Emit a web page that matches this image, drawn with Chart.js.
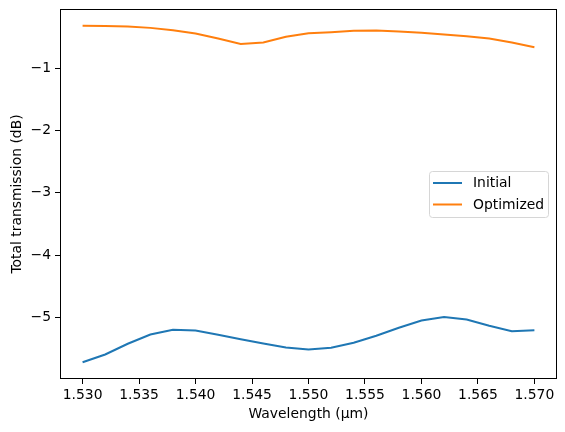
<!DOCTYPE html>
<html><head><meta charset="utf-8">
<script src="https://cdn.jsdelivr.net/npm/chart.js@4"></script>
<style>html,body{margin:0;padding:0;background:#fff}</style>
</head><body>
<canvas id="c" width="565" height="432"></canvas>
<script>
const wavelengths = [1.530,1.532,1.534,1.536,1.538,1.540,1.542,1.544,1.546,1.548,1.550,1.552,1.554,1.556,1.558,1.560,1.562,1.564,1.566,1.568,1.570];
const initial = [-5.718,-5.594,-5.422,-5.273,-5.198,-5.209,-5.278,-5.349,-5.418,-5.482,-5.514,-5.487,-5.406,-5.294,-5.165,-5.048,-4.995,-5.032,-5.133,-5.220,-5.204];
const optimized = [-0.320,-0.321,-0.330,-0.353,-0.390,-0.443,-0.523,-0.610,-0.587,-0.497,-0.438,-0.422,-0.398,-0.394,-0.410,-0.433,-0.459,-0.486,-0.523,-0.587,-0.663];
const seriesNames = ['Initial','Optimized'];
const xTicks = [1.530,1.535,1.540,1.545,1.550,1.555,1.560,1.565,1.570];
const yTicks = [-1,-2,-3,-4,-5];

const FONT = 'DejaVu Sans';
const FS = 13.9;
const colors = ['#1f77b4','#ff7f0e'];

const allY = initial.concat(optimized);
const yMinD = Math.min(...allY), yMaxD = Math.max(...allY);
const yR = yMaxD - yMinD;
const xMinD = Math.min(...wavelengths), xMaxD = Math.max(...wavelengths);
const xR = xMaxD - xMinD;

const framePlugin = {
  id: 'frame',
  afterDraw(chart) {
    const {ctx, chartArea: a} = chart;
    ctx.save();
    ctx.strokeStyle = '#000';
    ctx.lineWidth = 1;
    ctx.strokeRect(Math.round(a.left) + 0.5, Math.round(a.top) + 0.5, Math.round(a.right - a.left) - 1, Math.round(a.bottom - a.top) - 1);
    // legend
    const bx = 429.5, by = 171.5, bw = 119, bh = 46, r = 3;
    ctx.beginPath();
    ctx.moveTo(bx + r, by);
    ctx.arcTo(bx + bw, by, bx + bw, by + bh, r);
    ctx.arcTo(bx + bw, by + bh, bx, by + bh, r);
    ctx.arcTo(bx, by + bh, bx, by, r);
    ctx.arcTo(bx, by, bx + bw, by, r);
    ctx.closePath();
    ctx.fillStyle = 'rgba(255,255,255,0.8)';
    ctx.fill();
    ctx.strokeStyle = '#d6d6d6';
    ctx.stroke();
    chart.data.datasets.forEach((ds, i) => {
      const ly = 183 + i * 21.5;
      ctx.beginPath();
      ctx.strokeStyle = ds.borderColor;
      ctx.lineWidth = 2;
      ctx.moveTo(433, ly);
      ctx.lineTo(462, ly);
      ctx.stroke();
      ctx.fillStyle = '#000';
      ctx.font = FS + 'px "' + FONT + '"';
      ctx.textBaseline = 'middle';
      ctx.textAlign = 'left';
      ctx.fillText(ds.label, 473, ly + 0.5);
    });
    ctx.restore();
  }
};

new Chart(document.getElementById('c'), {
  type: 'line',
  data: {
    datasets: [
      {label: seriesNames[0], data: wavelengths.map((x, i) => ({x, y: initial[i]})), borderColor: colors[0], backgroundColor: colors[0]},
      {label: seriesNames[1], data: wavelengths.map((x, i) => ({x, y: optimized[i]})), borderColor: colors[1], backgroundColor: colors[1]}
    ]
  },
  options: {
    responsive: false,
    devicePixelRatio: 1,
    animation: false,
    elements: {line: {borderWidth: 2, tension: 0}, point: {radius: 0}},
    layout: {padding: {top: 9, right: 8, left: 0, bottom: 0}},
    plugins: {legend: {display: false}, tooltip: {enabled: false}},
    scales: {
      x: {
        type: 'linear',
        min: xMinD - 0.05 * xR,
        max: xMaxD + 0.05 * xR,
        afterBuildTicks: s => { s.ticks = xTicks.map(v => ({value: v})); },
        afterFit: s => { s.height = 53; s.paddingLeft = 0; s.paddingRight = 0; },
        ticks: {callback: v => Number(v).toFixed(3), font: {family: FONT, size: FS}, color: '#000', maxRotation: 0, autoSkip: false, padding: 3},
        grid: {drawOnChartArea: false, drawTicks: true, tickLength: 5, tickColor: '#000', tickWidth: 1},
        border: {display: false},
        title: {display: true, text: 'Wavelength (µm)', font: {family: FONT, size: FS}, color: '#000', padding: {top: 0, bottom: 9}}
      },
      y: {
        type: 'linear',
        min: yMinD - 0.05 * yR,
        max: yMaxD + 0.05 * yR,
        afterBuildTicks: s => { s.ticks = yTicks.map(v => ({value: v})); },
        afterFit: s => { s.width = 60; s.paddingTop = 0; s.paddingBottom = 0; },
        ticks: {callback: v => (v < 0 ? '\u2212' : '') + Math.abs(v), font: {family: FONT, size: FS}, color: '#000', padding: 4},
        grid: {drawOnChartArea: false, drawTicks: true, tickLength: 5, tickColor: '#000', tickWidth: 1},
        border: {display: false},
        title: {display: true, text: 'Total transmission (dB)', font: {family: FONT, size: FS}, color: '#000', padding: {top: 9, bottom: 0}}
      }
    }
  },
  plugins: [framePlugin]
});
</script>
</body></html>
